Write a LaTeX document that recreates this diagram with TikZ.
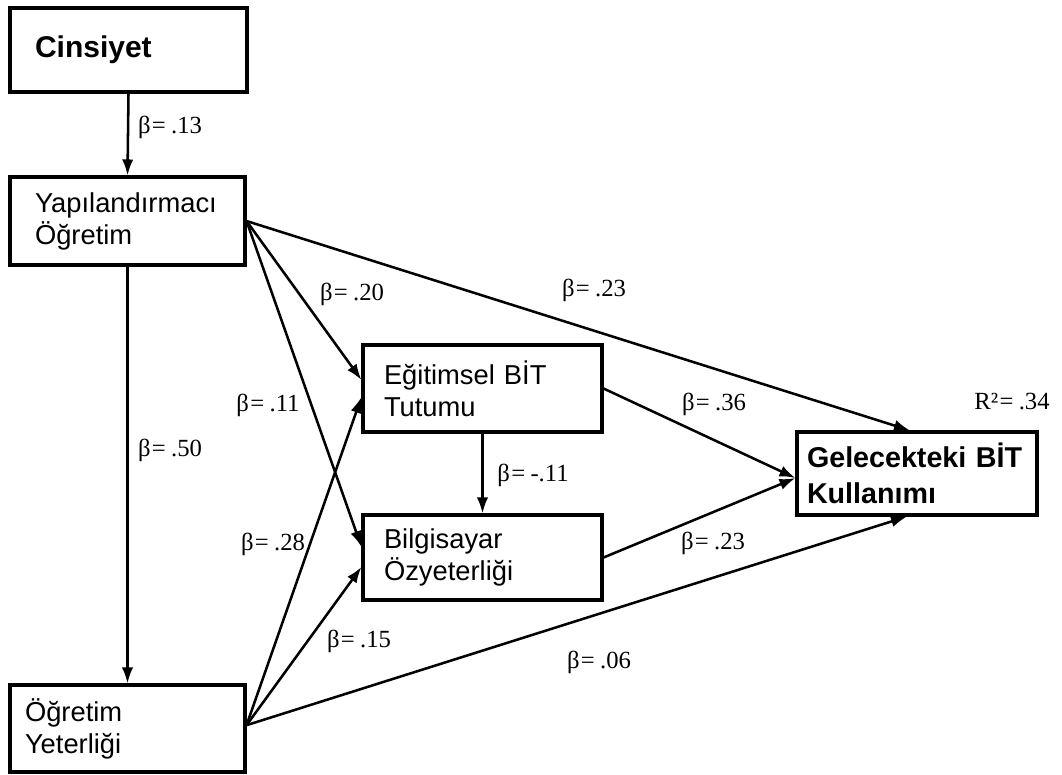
\documentclass[tikz,border=0pt]{standalone}
\usepackage{fontspec}
\setmainfont{Liberation Sans}
\newfontfamily\coeffont{Liberation Serif}
\usetikzlibrary{arrows.meta}
% path coefficient text
\newcommand{\bcoef}[1]{β\kern1pt=\kern4pt#1}
\begin{document}
\begin{tikzpicture}[x=0.75pt,y=-0.75pt,
  box/.style={draw, line width=2.3pt, rectangle, align=left, inner ysep=0pt,
    font=\fontsize{20.5}{24}\selectfont},
  boldbox/.style={box, font=\bfseries\fontsize{21.5}{27.5}\selectfont},
  link/.style={line width=1.9pt, -{Latex[length=12pt,width=8.5pt]}},
  coef/.style={font=\coeffont\fontsize{18.5}{20}\selectfont, inner sep=1pt}]
\useasboundingbox[fill=white] (0,0) rectangle (1062,774);

% variables
\node[boldbox, font=\bfseries\fontsize{22.5}{27}\selectfont,
  minimum width=177.75pt, minimum height=63pt,
  text width=140.25pt, inner xsep=18.75pt] (cin) at (128.5,50) {Cinsiyet};
\node[box, minimum width=176.25pt, minimum height=66pt,
  text width=138.75pt, inner xsep=18.75pt] (yap) at (127.5,221)
  {Yapılandırmacı\\Öğretim};
\node[box, minimum width=176.25pt, minimum height=65.25pt,
  text width=153.75pt, inner xsep=11.25pt] (ogr) at (127.5,728.5)
  {Öğretim\\Yeterliği};
\node[box, minimum width=179.25pt, minimum height=65.25pt,
  text width=147.75pt, inner xsep=15.75pt] (egt) at (482.5,388.5)
  {Eğitimsel BİT\\Tutumu};
\node[box, minimum width=179.25pt, minimum height=63.75pt,
  text width=147.75pt, inner xsep=15.75pt] (bil) at (482.5,557.5)
  {Bilgisayar\\Özyeterliği};
\node[boldbox, minimum width=180pt, minimum height=62.25pt,
  text width=165pt, inner xsep=7.5pt] (gel) at (917,473.5)
  {Gelecekteki BİT\\Kullanımı};

% paths
\draw[link] (cin.south) -- (yap.north);
\draw[link] (yap.south) -- (ogr.north);
\draw[link] (yap.east) -- ([yshift=6.4pt]egt.west);
\draw[link] (yap.east) -- ([yshift=7.9pt]bil.west);
\draw[link] (yap.east) -- ([xshift=-5.25pt]gel.north);
\draw[link] ([yshift=2.5pt]ogr.east) -- ([yshift=-6.4pt]egt.west);
\draw[link] ([yshift=2.5pt]ogr.east) -- ([yshift=-7.1pt]bil.west);
\draw[link] ([yshift=2.5pt]ogr.east) -- ([xshift=-7.5pt]gel.south);
\draw[link] (egt.east) -- ([yshift=-3.4pt]gel.west);
\draw[link] (bil.east) -- ([yshift=-3.4pt]gel.west);
\draw[link] (egt.south) -- (bil.north);

% coefficients
\node[coef] (c13) at (170,127) {\bcoef{.13}};
\node[coef] (c50) at (170,450) {\bcoef{.50}};
\node[coef] (c20) at (352,294) {\bcoef{.20}};
\node[coef] (c11) at (268,405) {\bcoef{.11}};
\node[coef] (c23a) at (594,290) {\bcoef{.23}};
\node[coef] (c28) at (273,544) {\bcoef{.28}};
\node[coef] (c15) at (359,641) {\bcoef{.15}};
\node[coef] (c06) at (599,662) {\bcoef{.06}};
\node[coef] (c36) at (714,404) {\bcoef{.36}};
\node[coef] (cm11) at (533,475) {\bcoef{-.11}};
\node[coef] (c23b) at (713,543) {\bcoef{.23}};
\node[coef] (r2) at (1012,402) {R²\kern1pt=\kern4pt.34};
\end{tikzpicture}
\end{document}
